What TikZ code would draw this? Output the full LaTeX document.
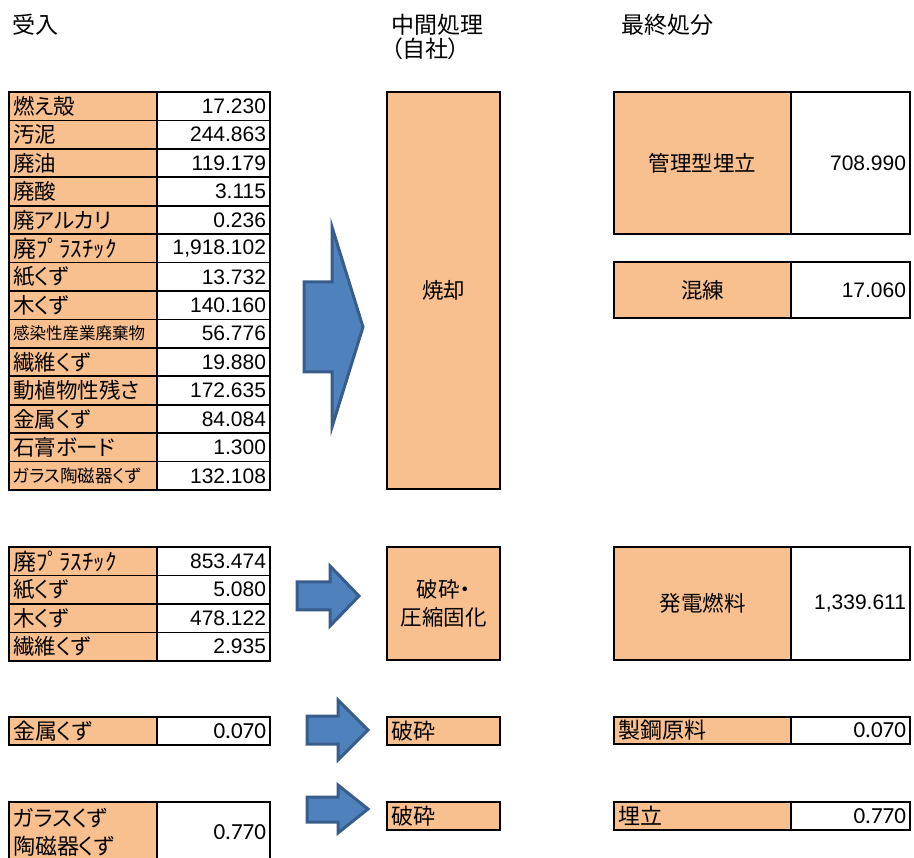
\documentclass[tikz,border=0pt]{standalone}
\usepackage{fontspec}
\setmainfont{Noto Sans CJK JP}[RawFeature={+palt}]
\newfontfamily\numfont{Liberation Sans}
\newfontfamily\calfont{Carlito}
\definecolor{cellor}{HTML}{F9C08F}
\definecolor{arrfill}{HTML}{4F81BD}
\definecolor{arrline}{HTML}{385D8A}
\newcommand\cellnode[8]{%
  \pgfmathsetmacro\cw{#5-#3}\pgfmathsetmacro\ch{#6-#4}\pgfmathsetmacro\tw{#5-#3-8}%
  \pgfmathsetmacro\cx{(#3+#5)/2}\pgfmathsetmacro\cy{(#4+#6)/2}%
  \node[#2, minimum width=\cw pt, minimum height=\ch pt, text width=\tw pt, align=#7] (#1) at (\cx,\cy) {#8};}
\tikzset{
  cellL/.style={draw=black, line width=1.8pt, fill=cellor, inner xsep=4pt, inner ysep=0pt, font=\fontsize{21.5}{24}\selectfont},
  cellR/.style={draw=black, line width=1.8pt, fill=white, inner xsep=4pt, inner ysep=0pt, font=\numfont\fontsize{21}{24}\selectfont},
  cellC/.style={draw=black, line width=1.8pt, fill=white, inner xsep=4pt, inner ysep=0pt, font=\calfont\fontsize{23}{26}\selectfont},
  cellM/.style={cellL, font=\fontsize{22}{28}\selectfont},
  head/.style={anchor=west, inner sep=0pt, font=\fontsize{23}{26}\selectfont},
  blockarrow/.style={fill=arrfill, draw=arrline, line width=3pt, line join=miter}
}
\begin{document}
\begin{tikzpicture}[x=1pt, y=-1pt]
\useasboundingbox (0,0) rectangle (914,858);
% headers
\node[head] (h1) at (12,25) {受入};
\node[head] (h2) at (391,25) {中間処理};
\node[head] (h2b) at (391,49) {（自社）};
\node[head] (h3) at (621,25) {最終処分};
% top table
\foreach \lab/\val [count=\i from 0] in {燃え殻/17.230, 汚泥/244.863, 廃油/119.179, 廃酸/3.115, 廃アルカリ/0.236, {{\fontsize{23}{24}\selectfont 廃ﾌﾟﾗｽﾁｯｸ}}/{1,918.102}, 紙くず/13.732, 木くず/140.160, {{\fontsize{16.5}{18}\selectfont 感染性産業廃棄物}}/56.776, 繊維くず/19.880, 動植物性残さ/172.635, 金属くず/84.084, 石膏ボード/1.300, {{\fontsize{17.5}{18}\selectfont ガラス陶磁器くず}}/132.108}{
  \pgfmathsetmacro\ya{92+28.43*\i}\pgfmathsetmacro\yb{92+28.43*(\i+1)}
  \cellnode{ta\i}{cellL}{9}{\ya}{157}{\yb}{left}{\lab}
  \cellnode{tb\i}{cellR}{157}{\ya}{270}{\yb}{right}{\val}
}
% second table
\foreach \lab/\val [count=\i from 0] in {{{\fontsize{23}{24}\selectfont 廃ﾌﾟﾗｽﾁｯｸ}}/853.474, 紙くず/5.080, 木くず/478.122, 繊維くず/2.935}{
  \pgfmathsetmacro\ya{547+28.5*\i}\pgfmathsetmacro\yb{547+28.5*(\i+1)}
  \cellnode{sa\i}{cellL}{9}{\ya}{157}{\yb}{left}{\lab}
  \cellnode{sb\i}{cellR}{157}{\ya}{270}{\yb}{right}{\val}
}
% third and fourth
\cellnode{ka}{cellM}{9}{717}{157}{745}{left}{金属くず}
\cellnode{kb}{cellC}{157}{717}{270}{745}{right}{0.070}
\cellnode{ga}{cellM}{9}{802}{157}{862}{left}{ガラスくず\\陶磁器くず}
\cellnode{gb}{cellC}{157}{802}{270}{862}{right}{0.770}
% middle
\cellnode{m1}{cellL}{387}{92}{500}{489}{center}{焼却}
\cellnode{m2}{cellL}{387}{547}{500}{660}{center}{破砕・\\[4pt]圧縮固化}
\cellnode{m3}{cellM}{387}{717}{500}{745}{left}{破砕}
\cellnode{m4}{cellM}{387}{802}{500}{830}{left}{破砕}
% right
\cellnode{r1a}{cellL}{614}{92}{791}{234}{center}{管理型埋立}
\cellnode{r1b}{cellR}{791}{92}{910}{234}{right}{708.990}
\cellnode{r2a}{cellL}{614}{262}{791}{318}{center}{混練}
\cellnode{r2b}{cellR}{791}{262}{910}{318}{right}{17.060}
\cellnode{r3a}{cellL}{614}{547}{791}{660}{center}{発電燃料}
\cellnode{r3b}{cellR}{791}{547}{910}{660}{right}{1,339.611}
\cellnode{r4a}{cellM}{614}{717}{791}{744}{left}{製鋼原料}
\cellnode{r4b}{cellC}{791}{717}{910}{744}{right}{0.070}
\cellnode{r5a}{cellM}{614}{802}{791}{830}{left}{埋立}
\cellnode{r5b}{cellC}{791}{802}{910}{830}{right}{0.770}
% block arrows
\draw[blockarrow] (304,282) -- (332,282) -- (332,227) -- (363,327) -- (332,427) -- (332,372) -- (304,372) -- cycle;
\draw[blockarrow] (297,582) -- (330,582) -- (330,566) -- (359,596) -- (330,626) -- (330,610) -- (297,610) -- cycle;
\draw[blockarrow] (307,716) -- (338,716) -- (338,700) -- (368,730) -- (338,760) -- (338,744) -- (307,744) -- cycle;
\draw[blockarrow] (307,797) -- (338,797) -- (338,785) -- (368,809) -- (338,833) -- (338,822) -- (307,822) -- cycle;
\end{tikzpicture}
\end{document}
